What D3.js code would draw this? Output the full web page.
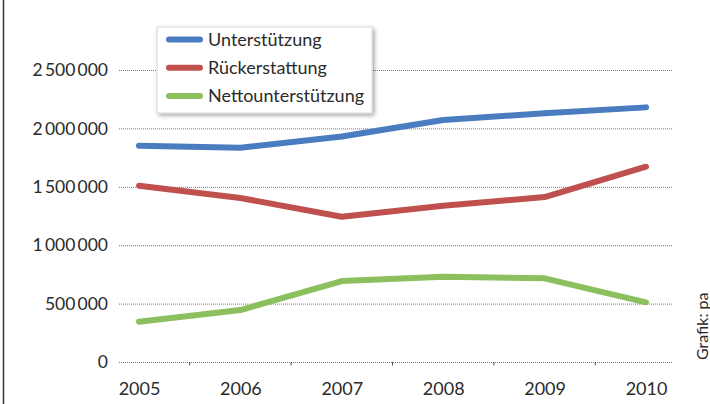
<!DOCTYPE html>
<html>
<head>
<meta charset="utf-8">
<script src="https://cdn.jsdelivr.net/npm/d3@7"></script>
<style>
  body { margin: 0; background: #fff; }
  svg { display: block; font-family: Lato, "Open Sans", sans-serif; }
</style>
</head>
<body>
<svg id="chart" width="710" height="404"></svg>
<script>
var years = [2005, 2006, 2007, 2008, 2009, 2010];
var unterstuetzung = [1852000, 1835000, 1930000, 2072000, 2129000, 2180000];
var rueckerstattung = [1509000, 1404000, 1244000, 1338000, 1412000, 1672000];
var netto = [345000, 445000, 693000, 730000, 716000, 511000];
var yTicks = [0, 500000, 1000000, 1500000, 2000000, 2500000];
var seriesNames = ['Unterstützung', 'Rückerstattung', 'Nettounterstützung'];
var seriesColors = ['#4a7dc0', '#c0504d', '#8cbf5e'];

var svg = d3.select('#chart');

var x = d3.scalePoint()
  .domain(years)
  .range([139, 646]);

var y = d3.scaleLinear()
  .domain([0, 2500000])
  .range([362, 70]);

// frame line on the left
svg.append('line')
  .attr('x1', 3.5).attr('x2', 3.5)
  .attr('y1', 0).attr('y2', 404)
  .attr('stroke', '#333')
  .attr('stroke-width', 1.5);

function formatNumber(v) {
  // thin space as thousands separator
  return d3.format(',')(v).replace(/,/g, '\u2009');
}

// grid lines + y labels
var yAxis = d3.axisLeft(y)
  .tickValues(yTicks)
  .tickSize(-(673 - 119))
  .tickPadding(11)
  .tickFormat(formatNumber);

var yG = svg.append('g')
  .attr('transform', 'translate(119,0)')
  .call(yAxis);
yG.select('.domain').remove();
yG.selectAll('.tick line')
  .attr('stroke', '#777')
  .attr('stroke-width', 1)
  .attr('stroke-dasharray', '1,1');
yG.selectAll('.tick text')
  .attr('fill', '#2b2b2b')
  .style('font-size', '17.5px')
  .style('font-family', 'Lato, sans-serif');

// x labels
var xAxis = d3.axisBottom(x)
  .tickSize(0)
  .tickPadding(20);
var xG = svg.append('g')
  .attr('transform', 'translate(0,' + y(0) + ')')
  .call(xAxis);
xG.select('.domain').remove();
xG.selectAll('.tick text')
  .attr('fill', '#2b2b2b')
  .style('font-size', '18px')
  .style('font-family', 'Lato, sans-serif');

// small ticks between categories
var step = x.step();
svg.append('g').selectAll('line')
  .data(years.slice(1))
  .join('line')
  .attr('x1', function (d) { return x(d) - step / 2; })
  .attr('x2', function (d) { return x(d) - step / 2; })
  .attr('y1', y(0))
  .attr('y2', y(0) + 3.5)
  .attr('stroke', '#555')
  .attr('stroke-width', 1);

// lines
var allSeries = [unterstuetzung, rueckerstattung, netto];
var line = d3.line()
  .x(function (d, i) { return x(years[i]); })
  .y(function (d) { return y(d); });

svg.append('g').selectAll('path')
  .data(allSeries)
  .join('path')
  .attr('d', line)
  .attr('fill', 'none')
  .attr('stroke', function (d, i) { return seriesColors[i]; })
  .attr('stroke-width', 6)
  .attr('stroke-linecap', 'round')
  .attr('stroke-linejoin', 'round');

// legend
var defs = svg.append('defs');
var filter = defs.append('filter')
  .attr('id', 'shadow')
  .attr('x', '-10%').attr('y', '-10%')
  .attr('width', '130%').attr('height', '140%');
filter.append('feDropShadow')
  .attr('dx', 2).attr('dy', 2)
  .attr('stdDeviation', 2)
  .attr('flood-color', '#000')
  .attr('flood-opacity', 0.35);

var legend = svg.append('g')
  .attr('transform', 'translate(157,27)');
legend.append('rect')
  .attr('width', 215)
  .attr('height', 86)
  .attr('fill', '#fff')
  .attr('stroke', '#d8d8d8')
  .attr('stroke-width', 1)
  .attr('filter', 'url(#shadow)');

var items = legend.selectAll('g.item')
  .data(seriesNames)
  .join('g')
  .attr('class', 'item')
  .attr('transform', function (d, i) { return 'translate(0,' + (12.5 + i * 28.2) + ')'; });
items.append('line')
  .attr('x1', 12).attr('x2', 43)
  .attr('stroke', function (d, i) { return seriesColors[i]; })
  .attr('stroke-width', 6)
  .attr('stroke-linecap', 'round');
items.append('text')
  .attr('x', 51)
  .attr('dy', '0.35em')
  .attr('fill', '#2b2b2b')
  .style('font-size', '18px')
  .text(function (d) { return d; });

// source note
svg.append('text')
  .attr('transform', 'translate(708,360) rotate(-90)')
  .attr('fill', '#2b2b2b')
  .style('font-size', '16px')
  .text('Grafik: pa');
</script>
</body>
</html>
